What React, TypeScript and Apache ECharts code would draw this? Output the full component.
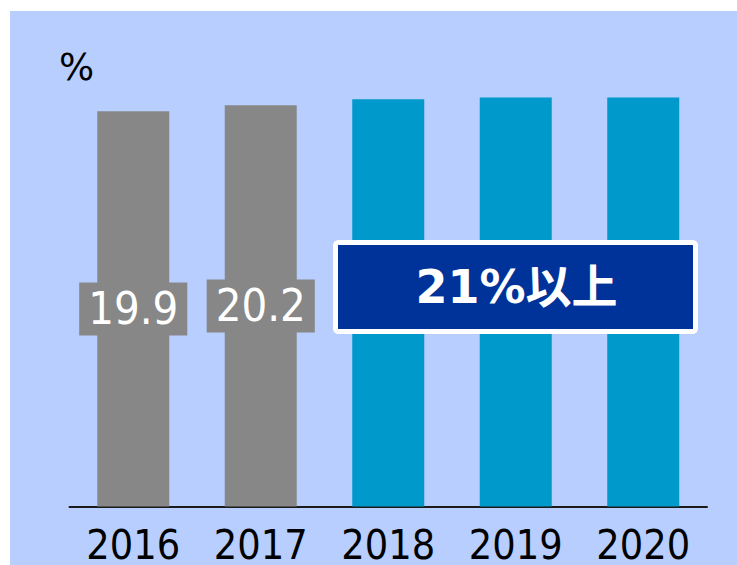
import React, { useEffect, useRef } from "react";
import * as echarts from "echarts";

const categories = ["2016", "2017", "2018", "2019", "2020"];
const values = [19.9, 20.2, 20.5, 20.6, 20.6];
const barColors = ["#878787", "#878787", "#0099CC", "#0099CC", "#0099CC"];
const labelShown = [true, true, false, false, false];
const unitLabel = "%";
const targetLabel = "21%以上";

export default function App() {
  const ref = useRef<HTMLDivElement>(null);
  useEffect(() => {
    if (!ref.current) return;
    const chart = echarts.init(ref.current, undefined, { renderer: "svg" });
    const font = "'DejaVu Sans Condensed', 'DejaVu Sans', sans-serif";
    chart.setOption({
      animation: false,
      backgroundColor: "#ffffff",
      grid: { left: 69.5, right: 30, top: 10, bottom: 56, containLabel: false },
      xAxis: {
        type: "category",
        data: categories,
        axisLine: { show: true, lineStyle: { color: "#1a1a1a", width: 2 } },
        axisTick: { show: false },
        axisLabel: {
          color: "#000",
          fontSize: 41,
          lineHeight: 32,
          fontFamily: font,
          margin: 22,
        },
      },
      yAxis: {
        type: "value",
        min: 0,
        max: 25,
        show: false,
        splitLine: { show: false },
      },
      graphic: [
        {
          type: "rect",
          z: -10,
          silent: true,
          shape: { x: 10, y: 11, width: 727, height: 554 },
          style: { fill: "#B8CEFE" },
        },
        {
          type: "text",
          x: 59,
          y: 49,
          style: {
            text: unitLabel,
            fontSize: 37,
            fontFamily: "'DejaVu Sans', sans-serif",
            fill: "#000",
            textVerticalAlign: "top",
          },
        },
        {
          type: "rect",
          z: 100,
          shape: { x: 335.5, y: 242.5, width: 360, height: 89, r: 3 },
          style: { fill: "#003399", stroke: "#ffffff", lineWidth: 5 },
        },
        {
          type: "text",
          z: 101,
          x: 516.5,
          y: 287,
          style: {
            text: targetLabel,
            fontSize: 46,
            fontWeight: "bold",
            fontFamily: "'DejaVu Sans', 'Noto Sans CJK JP', sans-serif",
            fill: "#ffffff",
            textAlign: "center",
            textVerticalAlign: "middle",
          },
        },
      ],
      series: [
        {
          type: "bar",
          barWidth: 72,
          data: values.map((v, i) => ({
            value: v,
            itemStyle: { color: barColors[i] },
            label: {
              show: labelShown[i],
              position: "inside",
              formatter: (p: any) => p.value.toFixed(1),
              color: "#fff",
              fontSize: 45,
              fontFamily: font,
              backgroundColor: "#878787",
              padding: [5, 9, 3, 9],
            },
          })),
        },
      ],
    });
    return () => chart.dispose();
  }, []);
  return (
    <div
      ref={ref}
      style={{ position: "fixed", left: 0, top: 0, width: 737, height: 565 }}
    />
  );
}
